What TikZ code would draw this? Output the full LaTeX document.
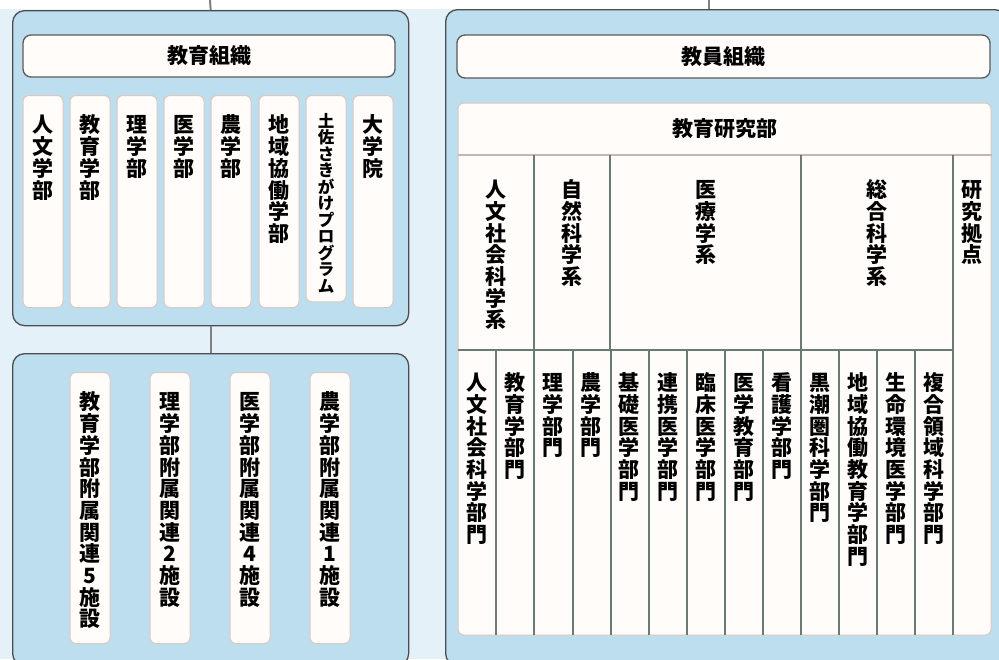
\documentclass[tikz,border=0pt]{standalone}
\usepackage{fontspec}
\setmainfont{Noto Sans CJK JP}
\XeTeXlinebreaklocale "ja"
\XeTeXlinebreakskip=0pt plus 1pt
\lineskiplimit=-100pt

\definecolor{bgblue}{HTML}{E4F1F8}
\definecolor{panelblue}{HTML}{BCDEEE}
\definecolor{panelline}{HTML}{4D4D4D}
\definecolor{paper}{HTML}{FFFCFA}
\definecolor{paperedge}{HTML}{DCC8C2}
\definecolor{headline}{HTML}{5A5A5A}
\definecolor{gridline}{HTML}{6A7A74}
\definecolor{rulepink}{HTML}{C8B5AE}
\definecolor{linkgray}{HTML}{808080}

\tikzset{
  panel/.style={draw=panelline, fill=panelblue, line width=1.3pt, rounded corners=12pt,
    inner sep=0pt, anchor=north west},
  head/.style={draw=headline, fill=paper, line width=1.3pt, rounded corners=8pt, inner sep=0pt},
  vbox/.style={fill=paper, draw=paperedge, line width=1pt, rounded corners=6pt, inner sep=0pt,
    anchor=north, minimum width=40pt, text width=24pt, align=center, text height=37.4pt},
  faculty/.style={vbox, text depth=174.6pt},
  annexbox/.style={vbox, text depth=233.6pt},
  group/.style={inner sep=0pt, anchor=north, text width=24pt, align=center,
    text height=42.4pt, text depth=152.6pt},
  cell/.style={inner sep=0pt, anchor=north, minimum width=38.1pt, text width=24pt, align=center,
    text height=40.4pt, text depth=244.6pt},
  grid/.style={draw=gridline, line width=2pt},
  link/.style={draw=linkgray, line width=2pt}
}

\begin{document}
\begin{tikzpicture}[x=1pt, y=-1pt, font=\bfseries\fontsize{21}{21.7}\selectfont]
  \useasboundingbox (0,0) rectangle (999,659);
  \fill[bgblue] (0,0) rectangle (999,659);
  \fill[white] (0,0) rectangle (999,9);

  % panels
  \node[panel, minimum width=396pt, minimum height=315pt] (edu) at (12,10) {};
  \node[panel, minimum width=396pt, minimum height=312pt] (annex) at (12,353) {};
  \node[panel, minimum width=561pt, minimum height=656pt] (staff) at (445,9) {};

  \coordinate (edutop) at (210,0);
  \coordinate (stafftop) at (709,0);
  \draw[link] (edutop) -- (edu.north);
  \draw[link] (edu.south) -- (annex.north);
  \draw[link] (stafftop) -- (stafftop |- staff.north);

  % education
  \node[head, minimum width=372pt, minimum height=42pt] (eduhead) at (209,56) {教育組織};
  \node[faculty] (jinbun) at (43,95) {人文学部};
  \node[faculty] (kyoiku) at (90,95) {教育学部};
  \node[faculty] (rigaku) at (137,95) {理学部};
  \node[faculty] (igaku) at (184,95) {医学部};
  \node[faculty] (nogaku) at (231,95) {農学部};
  \node[faculty] (chiiki) at (279,95) {地域協働学部};
  \node[faculty, text height=31.7pt, font=\bfseries\fontsize{16.5}{16.5}\selectfont] (tosa) at (326,95) {土佐さきがけプログラム};
  \node[faculty] (daigakuin) at (373,95) {大学院};

  \node[annexbox] (kyoikuf) at (90,372) {教育学部附属関連5施設};
  \node[annexbox] (rigakuf) at (170,372) {理学部附属関連2施設};
  \node[annexbox] (igakuf) at (250,372) {医学部附属関連4施設};
  \node[annexbox] (nogakuf) at (330,372) {農学部附属関連1施設};

  % staff
  \node[head, minimum width=533pt, minimum height=43pt] (staffhead) at (723.5,56.5) {教員組織};
  \node[fill=paper, draw=paperedge, line width=1pt, rounded corners=6pt, inner sep=0pt,
    minimum width=533pt, minimum height=532pt] (research) at (724.5,369) {};
  \node (researchtitle) at (724.5,129) {教育研究部};

  \node[group, minimum width=76pt] (jinsha) at (496,155) {人文社会科学系};
  \node[group, minimum width=76pt] (shizen) at (572,155) {自然科学系};
  \node[group, minimum width=191pt] (iryo) at (705.5,155) {医療学系};
  \node[group, minimum width=152pt] (sogo) at (877,155) {総合科学系};
  \node[group, minimum width=38pt, text depth=437.6pt] (kyoten) at (972,155) {研究拠点};

  \node[cell] (jinshab) at (477.05,350) {人文社会科学部門};
  \node[cell] (kyoikub) at (515.15,350) {教育学部門};
  \node[cell] (rigakub) at (553.25,350) {理学部門};
  \node[cell] (nogakub) at (591.35,350) {農学部門};
  \node[cell] (kisob) at (629.45,350) {基礎医学部門};
  \node[cell] (renkeib) at (667.55,350) {連携医学部門};
  \node[cell] (rinshob) at (705.65,350) {臨床医学部門};
  \node[cell] (igakub) at (743.75,350) {医学教育部門};
  \node[cell] (kangob) at (781.85,350) {看護学部門};
  \node[cell] (kuroshiob) at (819.95,350) {黒潮圏科学部門};
  \node[cell] (chiikib) at (858.05,350) {地域協働教育学部門};
  \node[cell] (seimeib) at (896.15,350) {生命環境医学部門};
  \node[cell] (fukugob) at (934.25,350) {複合領域科学部門};

  \draw[draw=rulepink, line width=2pt] (jinsha.north west) -- (research.east |- kyoten.north);
  \draw[grid] (jinsha.south west) -- (sogo.south east);
  \draw[grid] (jinsha.north east) -- (jinsha.south east) (shizen.north east) -- (shizen.south east)
    (iryo.north east) -- (iryo.south east) (kyoten.north west) -- (kyoten.south west);
  \draw[grid] (jinshab.north east) -- (jinshab.south east) (kyoikub.north east) -- (kyoikub.south east)
    (rigakub.north east) -- (rigakub.south east) (nogakub.north east) -- (nogakub.south east)
    (kisob.north east) -- (kisob.south east) (renkeib.north east) -- (renkeib.south east)
    (rinshob.north east) -- (rinshob.south east) (igakub.north east) -- (igakub.south east)
    (kangob.north east) -- (kangob.south east) (kuroshiob.north east) -- (kuroshiob.south east)
    (chiikib.north east) -- (chiikib.south east) (seimeib.north east) -- (seimeib.south east);
\end{tikzpicture}
\end{document}
